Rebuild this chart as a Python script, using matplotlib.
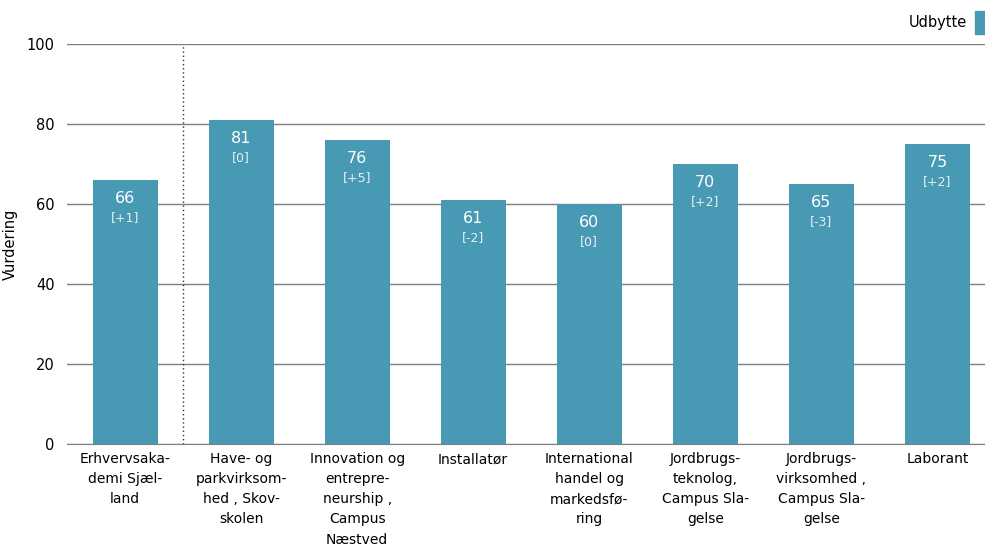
import matplotlib
matplotlib.use("Agg")
import matplotlib.pyplot as plt

categories = [
    "Erhvervsaka-\ndemi Sjæl-\nland",
    "Have- og\nparkvirksom-\nhed , Skov-\nskolen",
    "Innovation og\nentrepre-\nneurship ,\nCampus\nNæstved",
    "Installatør",
    "International\nhandel og\nmarkedsfø-\nring",
    "Jordbrugs-\nteknolog,\nCampus Sla-\ngelse",
    "Jordbrugs-\nvirksomhed ,\nCampus Sla-\ngelse",
    "Laborant",
]
values = [66, 81, 76, 61, 60, 70, 65, 75]
changes = ["[+1]", "[0]", "[+5]", "[-2]", "[0]", "[+2]", "[-3]", "[+2]"]

BAR = "#4899b4"
GRID = "#7f7f7f"

plt.rcParams["font.family"] = ["DejaVu Sans"]

fig = plt.figure(figsize=(9.85, 5.47), dpi=100)
ax = fig.add_axes([0.068, 0.1883, 0.932, 0.7313])

x = list(range(len(values)))
ax.bar(x, values, width=0.56, color=BAR, zorder=3)

for xi, v, c in zip(x, values, changes):
    ax.annotate(str(v), (xi, v), xytext=(0, -13), textcoords="offset points",
                ha="center", va="center", color="white", fontsize=11.5, zorder=4)
    ax.annotate(c, (xi, v), xytext=(0, -27), textcoords="offset points",
                ha="center", va="center", color="#e3f0f4", fontsize=9, zorder=4)

ax.set_ylim(0, 100)
ax.set_xlim(-0.5, 7.41)
ax.set_yticks([0, 20, 40, 60, 80, 100])
ax.yaxis.grid(True, color=GRID, linewidth=1, zorder=0)
ax.set_xticks(x)
ax.set_xticklabels(categories, fontsize=10, linespacing=1.55, va="top")
ax.tick_params(axis="x", length=0, pad=6)
ax.tick_params(axis="y", length=0, labelsize=10.5, pad=9)

for s in ["top", "right", "left"]:
    ax.spines[s].set_visible(False)
ax.spines["bottom"].set_color(GRID)

ax.axvline(0.5, color="#333333", linestyle=(0, (1, 2)), linewidth=1, zorder=2)

ax.set_ylabel("Vurdering", fontsize=10.5)
ax.yaxis.set_label_coords(-0.053, 0.5)

# legend in the top right corner
fig.text(0.982, 0.958, "Udbytte", ha="right", va="center", fontsize=10.5)
fig.patches.append(plt.Rectangle((0.990, 0.938), 0.011, 0.042, color=BAR,
                                 transform=fig.transFigure, figure=fig))

fig.savefig("out.png", dpi=100)
